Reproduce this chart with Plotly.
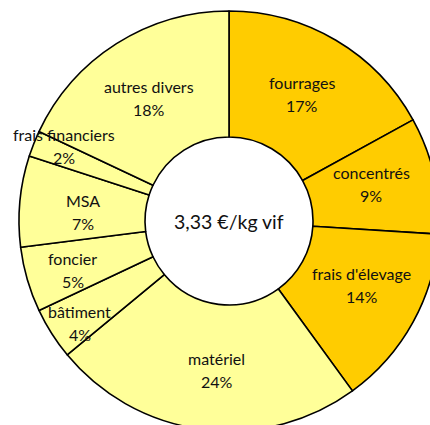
import math
import plotly.graph_objects as go

# ---- data ----
categories = ["fourrages", "concentrés", "frais d'élevage", "matériel", "bâtiment",
              "foncier", "MSA", "frais financiers", "autres divers"]
values = [17, 9, 14, 24, 4, 5, 7, 2, 18]
center_label = "3,33 €/kg vif"

# ---- style ----
DARK = "#FFCC00"
LIGHT = "#FFFF99"
colors = [DARK, DARK, DARK, LIGHT, LIGHT, LIGHT, LIGHT, LIGHT, LIGHT]
W, H = 440, 432
CX, CY, R, HOLE = 229, 221, 210, 0.4
# label nudges in pixels (dx, dy) from the mid-radius position
nudges = [(-2, 0), (-1, -5), (4, -7), (6, 3), (-25, 23), (-15, 8), (0, 5), (-28, -21), (-1, 1)]
FONT = "Lato, 'Open Sans', sans-serif"

fig = go.Figure(go.Pie(
    labels=categories,
    values=values,
    sort=False,
    direction="clockwise",
    rotation=0,
    hole=HOLE,
    marker=dict(colors=colors, line=dict(color="black", width=1.6)),
    textinfo="none",
    hoverinfo="label+percent",
    showlegend=False,
    domain=dict(x=[(CX - R) / W, (CX + R) / W], y=[1 - (CY + R) / H, 1 - (CY - R) / H]),
))

total = sum(values)
cum = 0
rmid = R * (1 + HOLE) / 2
for name, v, (dx, dy) in zip(categories, values, nudges):
    th = 2 * math.pi * (cum + v / 2) / total
    cum += v
    px = CX + rmid * math.sin(th) + dx
    py = CY - rmid * math.cos(th) + dy
    pct = f"{round(100 * v / total)}%"
    for txt, off in ((name, -11.5), (pct, 11.5)):
        fig.add_annotation(x=px / W, y=1 - (py + off) / H, xref="paper", yref="paper",
                           text=txt, showarrow=False, xanchor="center", yanchor="middle",
                           font=dict(family=FONT, size=16, color="#111111"))

fig.add_annotation(x=CX / W, y=1 - CY / H, xref="paper", yref="paper", text=center_label,
                   showarrow=False, xanchor="center", yanchor="middle",
                   font=dict(family=FONT, size=19.5, color="#111111"))

fig.update_layout(width=W, height=H, margin=dict(l=0, r=0, t=0, b=0),
                  paper_bgcolor="white", plot_bgcolor="white")

fig.write_html("out.html", config={"displayModeBar": False},
               post_script="document.body.style.margin='0';document.body.style.overflow='hidden';"
                           "document.documentElement.style.overflow='hidden';")
